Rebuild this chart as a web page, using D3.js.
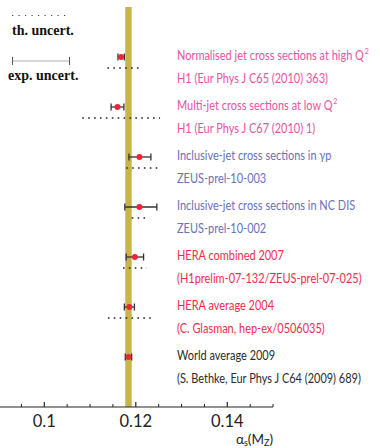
<!DOCTYPE html>
<html>
<head>
<meta charset="utf-8">
<script src="https://cdn.jsdelivr.net/npm/d3@7"></script>
<style>
  html, body { margin: 0; padding: 0; background: #fff; }
  svg { display: block; }
</style>
</head>
<body>
<svg id="chart" width="380" height="448"></svg>
<script>
// alpha_s(M_Z) determinations from HERA jet measurements
const titles = [
  "Normalised jet cross sections at high Q",
  "Multi-jet cross sections at low Q",
  "Inclusive-jet cross sections in \u03b3p",
  "Inclusive-jet cross sections in NC DIS",
  "HERA combined 2007",
  "HERA average 2004",
  "World average 2009"
];
const refs = [
  "H1 (Eur Phys J C65 (2010) 363)",
  "H1 (Eur Phys J C67 (2010) 1)",
  "ZEUS-prel-10-003",
  "ZEUS-prel-10-002",
  "(H1prelim-07-132/ZEUS-prel-07-025)",
  "(C. Glasman, hep-ex/0506035)",
  "(S. Bethke, Eur Phys J C64 (2009) 689)"
];
const groups = ["H1", "H1", "ZEUS", "ZEUS", "HERA", "HERA", "World"];
const titleSup = ["2", "2", "", "", "", "", ""];
const central = [0.1168, 0.1160, 0.1208, 0.1208, 0.1198, 0.1186, 0.1184];
const expUp   = [0.0007, 0.0014, 0.0025, 0.0038, 0.0019, 0.0011, 0.0007];
const expDown = [0.0007, 0.0014, 0.0023, 0.0032, 0.0019, 0.0011, 0.0007];
const thUp    = [0.0046, 0.0093, 0.0040, 0.0018, 0.0026, 0.0047, null];
const thDown  = [0.0030, 0.0077, 0.0029, 0.0017, 0.0026, 0.0047, null];
const worldAvg = 0.1184, worldErr = 0.0007;
const majorTicks = [0.10, 0.12, 0.14];
const minorTicks = [0.095, 0.105, 0.11, 0.115, 0.125, 0.13, 0.135, 0.145, 0.15];

const colour = { H1: "#e9529f", ZEUS: "#6b70b8", HERA: "#ee2c4c", World: "#2b2b2b" };
const textFont = "Lato, 'Open Sans', sans-serif";

const svg = d3.select("#chart");

const x = d3.scaleLinear().domain([0.1, 0.14]).range([44.3, 227.3]);
const y = d3.scaleBand().domain(d3.range(titles.length)).range([32, 382]);
const yc = i => y(i) + y.bandwidth() / 2;
const axisY = 407;

// world-average band
svg.append("rect")
  .attr("x", x(worldAvg - worldErr))
  .attr("width", x(worldAvg + worldErr) - x(worldAvg - worldErr))
  .attr("y", 7)
  .attr("height", axisY - 7)
  .attr("fill", "#c9b44b");

// axis along the bottom, ticks pointing upwards
const axis = svg.append("g").attr("transform", `translate(0,${axisY})`);
axis.append("line").attr("x1", 0).attr("x2", x(0.15)).attr("stroke", "#222").attr("stroke-width", 1.2);
axis.selectAll(".maj").data(majorTicks).join("line")
  .attr("x1", d => x(d)).attr("x2", d => x(d)).attr("y1", 0).attr("y2", -5)
  .attr("stroke", "#222").attr("stroke-width", 1.2);
axis.selectAll(".min").data(minorTicks).join("line")
  .attr("x1", d => x(d)).attr("x2", d => x(d)).attr("y1", 0).attr("y2", -3)
  .attr("stroke", "#222").attr("stroke-width", 1);
axis.selectAll(".lab").data(majorTicks).join("text")
  .attr("x", d => x(d)).attr("y", 19.5)
  .attr("text-anchor", "middle")
  .attr("font-family", textFont).attr("font-size", 16.5).attr("fill", "#222")
  .text(d => d3.format(".2~f")(d));

const axTitle = svg.append("text")
  .attr("x", 273).attr("y", 444).attr("text-anchor", "end")
  .attr("font-family", textFont).attr("font-size", 13.5).attr("fill", "#222");
axTitle.append("tspan").text("\u03b1");
axTitle.append("tspan").attr("font-size", 9).attr("dy", 2).text("s");
axTitle.append("tspan").attr("dy", -2).text("(M");
axTitle.append("tspan").attr("font-size", 9).attr("dy", 2).text("Z");
axTitle.append("tspan").attr("dy", -2).text(")");

// theory uncertainties (dotted) below each point
const rows = d3.range(titles.length);
svg.selectAll(".th").data(rows.filter(i => thUp[i] !== null)).join("line")
  .attr("x1", i => x(central[i] - thDown[i]))
  .attr("x2", i => x(central[i] + thUp[i]))
  .attr("y1", i => yc(i) + 11).attr("y2", i => yc(i) + 11)
  .attr("stroke", "#222").attr("stroke-width", 1.6)
  .attr("stroke-dasharray", "1.6,4.3");

// experimental uncertainties with end caps
const ex = svg.selectAll(".exp").data(rows).join("g");
ex.append("line")
  .attr("x1", i => x(central[i] - expDown[i])).attr("x2", i => x(central[i] + expUp[i]))
  .attr("y1", yc).attr("y2", yc)
  .attr("stroke", "#333").attr("stroke-width", 1.3);
ex.append("line")
  .attr("x1", i => x(central[i] - expDown[i])).attr("x2", i => x(central[i] - expDown[i]))
  .attr("y1", i => yc(i) - 3.5).attr("y2", i => yc(i) + 3.5)
  .attr("stroke", "#333").attr("stroke-width", 1.3);
ex.append("line")
  .attr("x1", i => x(central[i] + expUp[i])).attr("x2", i => x(central[i] + expUp[i]))
  .attr("y1", i => yc(i) - 3.5).attr("y2", i => yc(i) + 3.5)
  .attr("stroke", "#333").attr("stroke-width", 1.3);
ex.append("circle")
  .attr("cx", i => x(central[i])).attr("cy", yc).attr("r", 3)
  .attr("fill", "#ee2538");

// labels, drawn in a horizontally condensed group so the long titles fit
const labX = 177, labWidth = 187;
const labels = svg.append("g");
const t1 = labels.selectAll(".title").data(rows).join("text")
  .attr("x", 0).attr("y", i => yc(i) + 3)
  .attr("font-family", textFont).attr("font-size", 12.5)
  .attr("fill", i => colour[groups[i]]);
t1.append("tspan").attr("class", "main").text(i => titles[i]);
t1.append("tspan").attr("font-size", 8).attr("dx", 1).attr("dy", -6).text(i => titleSup[i]);
labels.selectAll(".ref").data(rows).join("text")
  .attr("x", 0).attr("y", i => yc(i) + 26)
  .attr("font-family", textFont).attr("font-size", 12.5)
  .attr("fill", i => colour[groups[i]])
  .text(i => refs[i]);
const natural = t1.select(".main").node().getComputedTextLength();
const k = labWidth / natural;
labels.attr("transform", `translate(${labX},0) scale(${k},1)`);

// legend
const serif = "'Liberation Serif', 'DejaVu Serif', serif";
svg.append("line").attr("x1", 12).attr("x2", 70).attr("y1", 15.5).attr("y2", 15.5)
  .attr("stroke", "#444").attr("stroke-width", 1.2).attr("stroke-dasharray", "1.2,5.3");
svg.append("text").attr("x", 12).attr("y", 35)
  .attr("font-family", serif).attr("font-weight", "bold").attr("font-size", 14).attr("fill", "#111")
  .text("th. uncert.");
svg.append("line").attr("x1", 12.5).attr("x2", 69.5).attr("y1", 61).attr("y2", 61)
  .attr("stroke", "#c8c8c8").attr("stroke-width", 1.4);
[12.5, 69.5].forEach(px => svg.append("line").attr("x1", px).attr("x2", px)
  .attr("y1", 57).attr("y2", 65).attr("stroke", "#555").attr("stroke-width", 1));
svg.append("text").attr("x", 8).attr("y", 80)
  .attr("font-family", serif).attr("font-weight", "bold").attr("font-size", 14).attr("fill", "#111")
  .text("exp. uncert.");
</script>
</body>
</html>
